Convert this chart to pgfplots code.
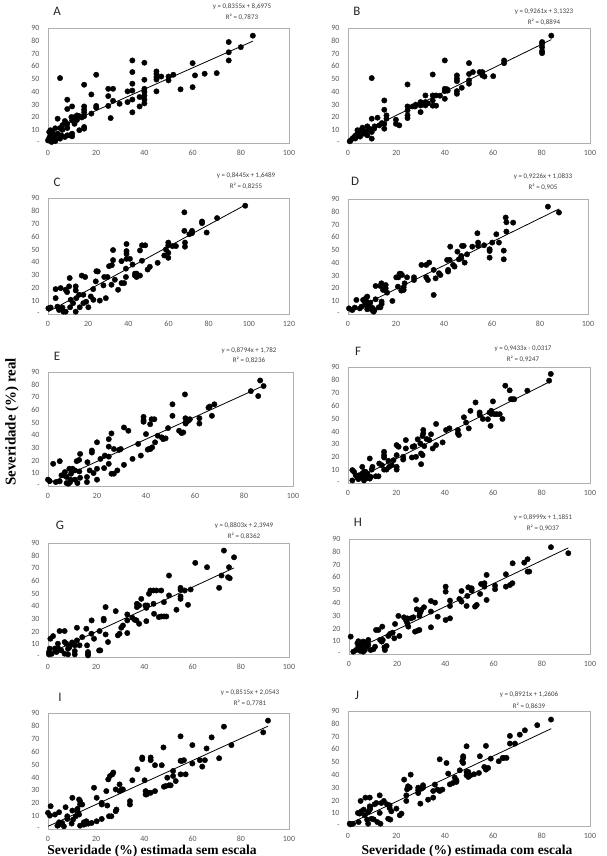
\documentclass[border=0pt]{standalone}
\usepackage{pgfplots}
\pgfplotsset{compat=1.18}
\usepackage{fontspec}
\setmainfont{Carlito}
\newfontfamily\tnr{Liberation Serif}
\definecolor{framegray}{RGB}{175,175,175}
\definecolor{tickgray}{RGB}{89,89,89}
\definecolor{eqgray}{RGB}{64,64,64}
\newcommand\tickfont{\fontsize{8}{9}\selectfont}
\newcommand\eqfont{\fontsize{7}{8}\selectfont}
\newcommand\letfont{\fontsize{13}{14}\selectfont}
\pgfplotsset{
 panel/.style={
  scale only axis, anchor=south west,
  xmin=0, xmax=100, ymin=0, ymax=90,
  xtick={0,20,40,60,80,100}, xticklabels={0,20,40,60,80,100},
  ytick={0,10,20,30,40,50,60,70,80,90}, yticklabels={-,10,20,30,40,50,60,70,80,90},
  major tick length=0pt,
  axis line style={draw=framegray, line width=0.6bp},
  tick label style={font=\tickfont, text=tickgray},
  yticklabel style={xshift=-5bp},
  xticklabel style={yshift=-4bp},
  clip=false,
 },
 pts/.style={only marks, mark=*, mark size=2.7bp, mark options={draw=black, fill=black}},
 trend/.style={black, line width=0.8bp, no marks},
}
\begin{document}
\begin{tikzpicture}
\useasboundingbox (0,0) rectangle (607bp,856bp);
% ---------------- A
\begin{axis}[panel, at={(48bp,713bp)}, width=241bp, height=115bp]
\addplot[pts] coordinates {(85,84)(75,79)(75,71)(75,64.6)(80,75)(70,54.7)(65,54.2)(61,52.9)(60,62.5)(60,43.7)(55,42)(52,53.4)(50,52)(50,49)(45,56)(45,54)(45,51.6)(45,49.7)(45,40.4)(47,52)(40,62.8)(40,49.5)(40,42.4)(40,40)(40,37)(40,34)(40,31)(38,36)(38,28.6)(35,64.6)(35,55.5)(35,46.4)(35,41)(35,34)(35,24)(33,40.4)(33,32)(29.7,30.7)(27,33)(27,42.4)(25,42.4)(25,36.7)(25,29)(26,19.5)(20,53.4)(20,29)(20,27.6)(18,38)(18,23)(15,45.6)(15,28.6)(15,26)(15,24)(15,21)(15,12.5)(15,11.2)(13,21)(13,10)(12,21.6)(11,20.3)(11,15)(9.7,20.3)(10,28.6)(10,17.7)(10,7.3)(10,5.2)(8,33.9)(8,26.6)(8,15)(8,11.7)(8,6)(7,17.2)(5,50.8)(5,11.7)(4,19)(4,7.3)(3,11.5)(3,4.7)(1,10)(1,6)(1,2.6)(2,4.7)(2,2.6)(0,2)(3.5,3.4)(5,3.4)(6,10.4)(7,4.7)(9,6)(5.5,6)(0.5,8.6)(1.5,0.8)(12,18)(14,20)(6,14)(2,8)(0.5,4)(3,1.5)};
\addplot[trend] coordinates {(0,8.6975)(85,79.71)};
\end{axis}
% ---------------- B
\begin{axis}[panel, at={(348bp,713bp)}, width=242bp, height=115bp]
\addplot[pts] coordinates {(84,84)(80.2,79)(80.2,77.6)(80.2,75)(80.2,71.9)(80.2,70.3)(64.5,64.6)(64.5,62.5)(60,52.3)(55.5,55.5)(55.5,54)(55.5,53)(54.4,55.5)(56.4,52)(51.6,55.5)(50,62.5)(50,54)(50,49)(50,46.4)(47,43.2)(45,52.9)(45,50.3)(45,48.4)(45,40.6)(45,38.5)(41.2,41)(40,64.6)(40,42.4)(40,40.6)(40,34.6)(36.4,37.2)(35,53.6)(35,37.2)(35,33.3)(35,29.2)(36.4,29.2)(32,37.2)(32,32)(32,29.4)(30,32)(30,29.4)(30,24.2)(26.7,28.6)(27.7,28.6)(24.6,45.8)(24.6,28.6)(24.6,25.5)(24.6,21.6)(24.6,19.5)(21.2,13.8)(19.8,18.2)(15.9,21.6)(15.9,19)(15,33.3)(15,26)(15,11.2)(15,15)(12.2,19.8)(9.8,50.8)(9.8,19)(9.8,3.4)(9.8,8.6)(8,13)(8,8.6)(8,6)(6,12)(5.3,10)(3.9,10)(3.9,7.3)(3.2,6)(2.5,4.7)(1.8,3.4)(1.1,2)(0.7,1.3)(4.6,6)(6.6,7.3)(8.7,10.4)(10.8,11.2)(12.9,13.8)(14,15.6)(19.8,15)(28,30)(33,31)(38,37)(41,42)(9,11)(7,9)(5,5)(3,3.5)(11,13)};
\addplot[trend] coordinates {(0.7,3.78)(84,80.93)};
\end{axis}
% ---------------- C
\begin{axis}[panel, at={(48bp,542bp)}, width=241bp, height=116bp, xmax=120, xtick={0,20,40,60,80,100,120}, xticklabels={0,20,40,60,80,100,120}]
\addplot[pts] coordinates {(98.2,84)(84.2,74.4)(76.7,71.8)(76.7,70.5)(79,63.2)(71.7,64.5)(71.7,62.7)(70.4,61.9)(67.9,78.9)(67.9,64.5)(68.2,55.4)(68.2,52.2)(62,52.7)(63.7,52.7)(59.9,55.4)(59.9,53.3)(59.9,47.5)(59.9,43.6)(58.7,50.1)(57.9,45.4)(54.6,39.7)(50.7,36.6)(49.6,34.5)(48.4,53.3)(46.8,53.3)(46.8,41.3)(45.8,49.3)(44.1,31.3)(44.1,28.7)(43.3,31.3)(43.3,29.8)(45.8,29.8)(42.1,38.4)(40.8,42.8)(39.1,54.3)(39.1,48.8)(39.1,46.7)(39.1,42.8)(38.8,35.2)(38.8,28.7)(37.9,24)(36.6,41)(36.6,24)(34.9,18.8)(33.3,26.6)(32.4,49.6)(32.4,41.8)(31.8,37.9)(30.4,37.1)(31.6,22.7)(28.8,12.3)(29.6,28.7)(28,28.7)(27.6,22.2)(25.8,10.4)(23.8,25.3)(24.1,33.2)(22.5,19.3)(22.6,11)(21.3,13.6)(20.1,5.2)(18.5,28.7)(16.8,29.8)(17.6,14.9)(17.6,8.4)(15.5,14.9)(15.8,5.2)(13.8,21.4)(13.8,18.3)(14.1,12.3)(13.8,1.8)(12.5,8.4)(11.3,11)(11,5.2)(10.8,27.9)(10.5,21.4)(9.5,17)(8.8,18.8)(7.2,5)(6.3,20.1)(5.5,3.1)(4.7,5.7)(3.8,12.3)(3.8,19.3)(1.3,5)(0.2,4.4)(7.7,1.8)(8.8,1.8)(24.8,33)(19,9.5)};
\addplot[trend] coordinates {(0.2,1.82)(98,84.41)};
\end{axis}
% ---------------- D
\begin{axis}[panel, at={(348bp,542bp)}, width=240bp, height=115bp]
\addplot[pts] coordinates {(83.3,84)(87.9,79.4)(68.8,71.5)(65.7,75.5)(66,71.8)(66,64.5)(64.9,49.6)(64.9,42.8)(62.9,55.9)(61.8,62.4)(60.1,55.9)(59,50.7)(59,49.3)(59,44.1)(56.7,53.8)(54.2,55.9)(54.2,53.3)(53.9,63.2)(51.8,52.7)(49.6,46.7)(48.6,40.2)(48.2,53.3)(47.5,53.3)(47.2,43.6)(47.2,45.4)(46.2,42.8)(45.6,48.8)(44.4,37.1)(43.8,38.4)(42.6,52.7)(42.4,42.3)(41.3,42.3)(41.7,34.5)(41.7,33.2)(38.5,30.5)(37.9,31.9)(36.5,27.9)(35.7,34.5)(35.7,14.9)(33.8,40.2)(32.6,38.4)(33.3,26.6)(32.6,28.7)(30.6,38.4)(27.5,28.7)(27.5,26.6)(24.6,28.7)(23.6,24)(23.2,18.8)(22.2,18.3)(23.2,20.9)(22,31.5)(21.5,31.5)(22.5,30.5)(21,28.7)(20.1,28.7)(20.8,21.4)(18.5,10.2)(16.3,16.7)(15.7,22.7)(15.7,20.1)(14.6,18.8)(13.9,24)(13.5,21.9)(14,9.7)(14,7.8)(13.5,5.2)(12.8,5.2)(11.5,21.9)(11.5,11.5)(9.7,5.2)(10,3.1)(10.7,1.8)(8,13.6)(7.5,12.5)(7.5,10.2)(8,8.4)(8.5,5.8)(7.3,7)(8,3.7)(6.3,11)(4.9,4.4)(3.5,11)(2.8,5)(1.8,3.1)(0.4,4.4)(5.6,5.7)(6.9,9.7)(9.3,8.9)(11,3)(10.3,4.5)};
\addplot[trend] coordinates {(0.4,1.45)(88,82.27)};
\end{axis}
% ---------------- E
\begin{axis}[panel, at={(48bp,370bp)}, width=245bp, height=114bp]
\addplot[pts] coordinates {(86.6,83.3)(88,78.9)(85.8,71)(82.8,74.9)(67.9,64.5)(66.9,55.4)(66,62.7)(65.5,61.9)(61.8,53.5)(61.8,49.3)(57.9,52.7)(57.2,51.4)(55.9,72.3)(56.1,53.5)(56.1,50.1)(56.2,49.3)(55.2,42.3)(54.5,41.8)(53.5,43.6)(50.8,64.5)(50.8,55.4)(49,45.7)(48,37.6)(47,37)(46.4,38.4)(44.8,39.7)(43.7,34.5)(43.4,52.7)(42.3,52.7)(41.7,48.8)(42.5,30.5)(41.8,29.2)(41.2,29.2)(40.7,28.7)(40,41)(39,54.6)(39,52)(39,50.7)(37.9,24)(36.8,33.2)(34.5,21.4)(32.8,43.6)(31,46.2)(31,16.7)(29.7,29.2)(29,28.5)(28.3,12.3)(26.9,29.2)(25.9,41.5)(26.9,9.7)(25.9,9.7)(24.8,37)(24.8,31.1)(24.8,23.2)(24.8,17.5)(23.2,24)(22.9,14.1)(21.4,21.4)(20,34.5)(20,13.6)(20,5)(18.6,10.2)(17.9,28)(17.9,26.4)(17,12.3)(16.1,18.8)(15.9,7.1)(15.9,3.1)(13.1,25.3)(12.7,20.6)(11.7,19.6)(12.8,11.5)(13.1,6.5)(12,2.3)(11,12.3)(10,13.6)(9.4,9.7)(9.2,5)(8.7,13.6)(8.3,1.8)(7.6,2.3)(7.6,7.1)(6.2,8.4)(5.5,8.4)(4.8,19.6)(4.8,3.7)(2.1,17.5)(3.2,3.1)(0.7,3.9)(0,5)(6.9,11)(9,3)(11,5)};
\addplot[trend] coordinates {(0,1.782)(88,79.17)};
\end{axis}
% ---------------- F
\begin{axis}[panel, at={(348bp,373bp)}, width=242bp, height=116bp]
\addplot[pts] coordinates {(83.8,84.6)(83.1,79.4)(74.1,71.6)(68,65)(67.3,65)(68.7,65)(66.8,71.9)(65,75.5)(63.8,49.7)(62.7,53.4)(61.5,53.4)(60.6,53.4)(59.9,63.3)(59.2,56)(58.5,54.7)(59.2,53.6)(58.9,44.3)(57.8,49.5)(55.7,49.7)(54.4,54.7)(54.4,52.9)(52.7,62.5)(50.6,56)(49.9,42.4)(48.8,46.9)(47.9,51)(45.4,41.1)(45.4,38.5)(45.8,37.2)(41.9,42.4)(40.5,41.1)(39.1,31.5)(36.4,45.8)(36.4,29.4)(35,26.8)(34.3,37.8)(33.6,33.3)(32.5,34.1)(31.5,28.6)(31.1,41.1)(31.1,38.5)(30.8,36.4)(30.8,21.6)(30.2,22.9)(30.2,14.6)(29.9,30.7)(28.8,33.9)(28.1,20.3)(27.4,28.6)(26.7,28.1)(26.4,19.8)(23.9,26.8)(23.9,33.3)(22.8,20.3)(22.8,18.2)(20.9,28.1)(20.1,29.4)(20.1,21.6)(20.1,12.5)(20.1,10.4)(18.8,17.7)(18.1,13.8)(17,12.5)(16.7,17.2)(15.9,10.4)(14.9,24.2)(14.9,21.6)(14.9,19.8)(14.9,10.4)(14,13.8)(12.9,15.1)(12.6,5.2)(11.5,5.2)(10.1,12.5)(9.8,10.4)(9,19)(9,3.4)(8,7.3)(8,6)(7.3,8.6)(6.6,8.6)(5.9,7.3)(5.9,12.5)(5.3,4.7)(4.6,6)(3.9,4.7)(3.2,6)(2.5,8.6)(1.8,10)(1.8,2)(6.6,2)(7.3,3.4)(9.4,4.7)(4.3,3)(6.8,5.6)};
\addplot[trend] coordinates {(1.8,1.67)(84,79.21)};
\end{axis}
% ---------------- G
\begin{axis}[panel, at={(48bp,199bp)}, width=241bp, height=114bp]
\addplot[pts] coordinates {(73,84)(77.2,78.7)(75.1,70.9)(74.7,63)(75.4,62.2)(72,64.3)(71,54.6)(66,70.9)(61.1,74.3)(58.1,41.2)(59.2,53.3)(56.7,52.5)(55,54.6)(55,53)(55,47.8)(55,45.9)(53.3,37.3)(50.2,64.3)(50.2,48.6)(48.1,43.3)(49.1,32)(48.1,32)(47,32)(47,52.5)(45,52.5)(43.8,52.5)(42.5,52.5)(46,31.5)(44,34.1)(43.8,42)(41.9,49.9)(40.8,38.8)(41.2,40.7)(40.4,40.7)(40.8,28.3)(38.7,45.9)(37.8,40.7)(36.9,42)(36.9,39.4)(37.8,26.2)(36.7,28.9)(36,29.4)(35,31)(32.9,33.6)(32.9,28.9)(32.9,18.9)(31.1,24.9)(30.4,23.1)(29.7,18.4)(29,17.1)(28.1,36.2)(24.9,11.8)(23.9,39.4)(23.9,17.8)(23.1,30.2)(23.1,28.9)(21.4,20.5)(21.2,5.2)(21.7,5.2)(19.1,14.4)(18.1,28.9)(18,18.4)(16.6,2.6)(16.6,3.9)(16.6,1.3)(15.9,22.3)(16.2,9.2)(14.2,15.7)(13.1,9.2)(12,23.1)(12,13.1)(11.1,9.2)(11.1,4.7)(11.1,2.1)(10.1,10.5)(9,8.5)(8.7,7.3)(8.3,6.5)(7.6,10.5)(6.9,11.8)(6.9,20.5)(4.8,20.5)(6.9,2.6)(8.3,2.1)(4.1,10.5)(4.1,7.3)(3.5,3.9)(2.8,6.6)(2.1,16.5)(1,14.4)(0.7,6.6)(0.4,3.9)(0.4,2.1)(5.5,5.2)(10,11.5)(1.5,2.5)};
\addplot[trend] coordinates {(0.4,2.75)(77.2,70.35)};
\end{axis}
% ---------------- H
\begin{axis}[panel, at={(349bp,202bp)}, width=241bp, height=115bp]
\addplot[pts] coordinates {(83.8,83.6)(91,78.9)(74.1,74.2)(72.7,71.5)(74.1,64.5)(74.8,64.5)(67.9,71)(67.8,55.4)(66.8,54)(65.1,62.4)(65.1,52.7)(60.6,53.5)(60.6,50.7)(57.1,61.9)(57.1,42.3)(56.2,55.4)(56.2,52.7)(54.8,54.8)(54.4,47)(53,38.4)(52.3,37.1)(50.9,51.4)(50.9,49.6)(49.5,52.2)(49.1,45.4)(48.8,37.6)(46.7,49.3)(46.7,41)(45.8,43.1)(41.9,41.8)(41.9,37.6)(41.9,27.9)(40.1,52.7)(40.1,48.8)(40.1,26.6)(35.7,40.2)(36.8,29.2)(34,41.5)(34,33.2)(34,20.9)(31.1,36.6)(30,34.5)(29.7,33.2)(29.4,31.9)(29.2,29.8)(29.2,18.8)(28.5,18.3)(27.4,17.5)(28.1,35)(27.8,42.3)(26.7,28.7)(25.7,27.9)(24.2,27.9)(23.7,26.1)(24.2,24)(24.6,21.4)(22.8,28.7)(20.5,29.8)(20.9,14.1)(19.1,23.5)(18.8,12.3)(18.1,16.7)(17,15.7)(16.3,14.1)(15.6,6.3)(14.7,5.2)(14.9,3.1)(13.8,21.4)(12.9,11)(13.6,9.7)(14,11)(12.2,18.8)(11.2,18.8)(10.8,5.7)(8,11)(8,7)(7.3,5.7)(6.6,3.1)(5.9,1.8)(5.3,4.5)(4.9,7)(4.6,2.5)(3.9,10)(3.9,6)(3.5,8.4)(2.9,3.1)(1.8,1.8)(0.7,13.6)(5.9,9.7)(6.6,8.4)(4.3,5.7)(9,3.1)(10.1,3.7)};
\addplot[trend] coordinates {(0.7,1.81)(91,83.08)};
\end{axis}
% ---------------- I
\begin{axis}[panel, at={(48bp,27bp)}, width=241bp, height=116bp]
\addplot[pts] coordinates {(91.3,84.1)(89.3,75)(76.1,65.1)(73,79.4)(67.9,71.1)(71,54.9)(65.8,62.5)(65.1,53.4)(63,53.4)(64,48.4)(59.9,65.1)(59.9,50.8)(57.1,42.4)(55,42.4)(56.4,53.4)(55.7,52.9)(55,52.9)(55,71.9)(53,37.2)(51.9,45)(51.9,41.1)(50.9,33.9)(50.2,33.9)(49.5,39.8)(48.1,32.8)(48.8,33.3)(47.9,63.3)(47.2,49.5)(44.4,49.5)(44.4,29.4)(42.6,55.5)(42.6,53.4)(42.6,28.1)(41.9,28.1)(40.9,26.8)(40.5,26.8)(40.1,37.8)(40.5,29.4)(39.1,54.2)(39.1,55.5)(37.1,46.4)(35,37.8)(34,21.6)(34,19)(31.1,30.7)(30.6,30.7)(29.7,34.6)(29.7,29.4)(28.1,30.7)(28.4,15.1)(28.1,13.8)(27.1,43.8)(26.7,42.4)(25.7,41.1)(25,38.5)(26.3,9.9)(25.3,9.9)(24.2,29.4)(24.6,18.2)(22.3,20.3)(22.3,19)(22.3,7.8)(20.2,24.2)(20.2,6)(19.1,32)(18.1,4.7)(16.7,4.2)(15.9,4.2)(15.9,6)(14.9,3.4)(14.9,5.2)(14.2,19)(13.3,21.6)(12.9,22.9)(13.3,19)(12.9,11.2)(12.2,13.8)(12.2,15.6)(13.3,2.6)(10.1,24.2)(10.1,14.3)(10.4,7.3)(9.8,4.2)(11.5,9.9)(8,9.9)(8,7.8)(7.3,16.9)(4.6,13)(4.6,3.4)(3.9,2.6)(4.6,5.2)(2.9,11.2)(1.1,17.7)(0.8,10.4)(0,12.5)(5.9,4.7)(6.6,2.1)};
\addplot[trend] coordinates {(0,2.054)(91.3,79.80)};
\end{axis}
% ---------------- J
\begin{axis}[panel, at={(348bp,30bp)}, width=242bp, height=115bp]
\addplot[pts] coordinates {(83.9,83.3)(78.2,78.9)(73.1,74.9)(71,71.5)(69,64.5)(66.9,70.5)(66.9,64.5)(65.5,53.3)(64.4,53.3)(63.9,53.3)(62.3,50.7)(59,52.7)(57.9,45.4)(57,44.1)(57,62.7)(56.3,46.2)(54.5,54.6)(54.1,41.5)(52.1,40.5)(50.6,39.7)(49.7,38.4)(49,39.7)(49.7,42.3)(49,62.4)(49,42.3)(47.6,54.6)(47.6,53.3)(47.6,49.3)(47.2,50.7)(46.2,43.6)(44.8,35.8)(44.8,34.5)(44.1,37.9)(43.4,33.7)(42.1,32.6)(41.4,41)(40.7,49.3)(39,28.5)(37.9,52.2)(37.9,27.4)(37,28.5)(35.9,32.4)(35.2,27.4)(35.2,22.2)(33.1,20.6)(31,30)(31,31.9)(30.3,29.2)(29,25.8)(29,27.9)(29,30)(29.9,17.5)(25.9,40.2)(25.5,30)(24.8,31.1)(24.4,28.7)(23.2,36.3)(24.1,24)(24.1,19.6)(22.1,9.7)(21.4,8.4)(20,13.6)(17.9,11.5)(17.2,16.2)(17.2,14.1)(17.5,5)(16.6,5.7)(16.1,17)(14.8,19.6)(13.8,18)(13.1,24)(13.4,1.8)(12.1,3.1)(13.1,10.2)(11,17)(11.7,18)(10.6,5.2)(9.7,5.7)(9,22.2)(9,15.4)(9.2,14.1)(9,12.8)(8.3,11)(7.9,5)(8.3,1.8)(7.2,22.2)(6.5,12.8)(5.5,11.5)(5.2,19.6)(4.8,9.7)(4.1,10.2)(4.4,3.1)(2.1,1.8)(1.1,1.3)(0.7,1.8)(6.9,8.4)};
\addplot[trend] coordinates {(0.7,1.89)(84,76.20)};
\end{axis}
% ---------------- panel letters
\begin{scope}[every node/.style={font=\letfont, text=black!85}]
\node at (57bp,845bp) {A};
\node at (357bp,845bp) {B};
\node at (57bp,674bp) {C};
\node at (355bp,675bp) {D};
\node at (57bp,500bp) {E};
\node at (358bp,505bp) {F};
\node at (60bp,331bp) {G};
\node at (358bp,334bp) {H};
\node at (60bp,159bp) {I};
\node at (357bp,161bp) {J};
\end{scope}
% ---------------- equations
\begin{scope}[every node/.style={font=\eqfont, text=eqgray, inner sep=0pt}]
\node at (242bp,849bp) {y = 0,8355x + 8,6975};
\node at (242bp,839bp) {R² = 0,7873};
\node at (544bp,844bp) {y = 0,9261x + 3,1323};
\node at (544bp,834bp) {R² = 0,8894};
\node at (246bp,680bp) {y = 0,8445x + 1,6489};
\node at (246bp,670bp) {R² = 0,8255};
\node at (543bp,679bp) {y = 0,9226x + 1,0833};
\node at (543bp,669bp) {R² = 0,905};
\node at (249bp,505bp) {y = 0,8794x + 1,782};
\node at (249bp,496bp) {R² = 0,8236};
\node at (523bp,507bp) {y = 0,9433x - 0,0317};
\node at (523bp,497bp) {R² = 0,9247};
\node at (244bp,330bp) {y = 0,8803x + 2,3949};
\node at (244bp,320bp) {R² = 0,8362};
\node at (543bp,338bp) {y = 0,8999x + 1,1851};
\node at (543bp,328bp) {R² = 0,9037};
\node at (250bp,163bp) {y = 0,8515x + 2,0543};
\node at (250bp,153bp) {R² = 0,7781};
\node at (529bp,161bp) {y = 0,8921x + 1,2606};
\node at (529bp,150bp) {R² = 0,8639};
\end{scope}
% ---------------- axis titles
\node[rotate=90, font=\tnr\bfseries\fontsize{15}{16}\selectfont] at (12bp,434bp) {Severidade (\%) real};
\node[anchor=base, font=\tnr\bfseries\fontsize{13.6}{15}\selectfont] at (152bp,2bp) {Severidade (\%) estimada sem escala};
\node[anchor=base, font=\tnr\bfseries\fontsize{13.6}{15}\selectfont] at (467bp,2bp) {Severidade (\%) estimada com escala};
\end{tikzpicture}
\end{document}
